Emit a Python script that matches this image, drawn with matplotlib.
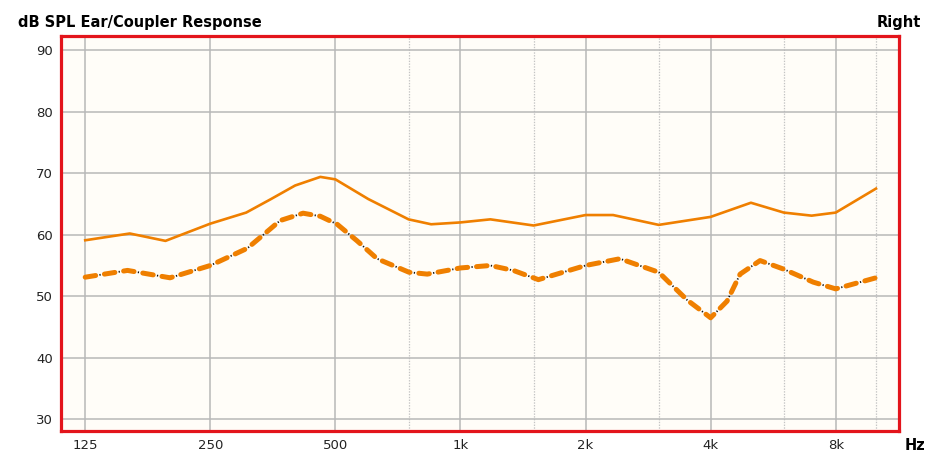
import matplotlib.pyplot as plt
import matplotlib.ticker as mticker

# readings (Hz, dB SPL)
solid_hz = [125, 160, 195, 250, 305, 350, 400, 460, 500, 600, 750, 850, 1000,
            1180, 1500, 2000, 2330, 3000, 4000, 5000, 6000, 7000, 8000, 10000]
solid_db = [59.1, 60.2, 59.0, 61.8, 63.6, 65.8, 68.0, 69.4, 69.0, 65.8, 62.5,
            61.7, 62.0, 62.5, 61.5, 63.2, 63.2, 61.6, 62.9, 65.2, 63.6, 63.1,
            63.6, 67.5]
dash_hz = [125, 158, 200, 250, 307, 348, 368, 418, 460, 505, 564, 630, 752,
           832, 1000, 1180, 1340, 1540, 2000, 2420, 3000, 3510, 4000, 4380,
           4710, 5260, 6000, 7060, 8000, 10000]
dash_db = [53.1, 54.2, 53.0, 55.0, 57.8, 60.9, 62.3, 63.5, 63.0, 61.7, 59.0,
           56.1, 53.9, 53.6, 54.6, 55.0, 54.2, 52.7, 55.0, 56.1, 53.9, 49.4,
           46.5, 49.2, 53.6, 55.8, 54.4, 52.3, 51.2, 53.0]
octave_ticks = [125, 250, 500, 1000, 2000, 4000, 8000]
octave_labels = ['125', '250', '500', '1k', '2k', '4k', '8k']
mid_ticks = [750, 1500, 3000, 6000, 10000]
db_ticks = [30, 40, 50, 60, 70, 80, 90]

orange = '#ef7f00'
plt.rcParams['lines.scale_dashes'] = False

fig = plt.figure(figsize=(9.28, 4.57), dpi=100)
ax = fig.add_axes([61 / 928, 26 / 457, 838 / 928, 395 / 457])
ax.set_facecolor('#fffdf8')
ax.set_xscale('log')
ax.set_xlim(109.3, 11360)
ax.set_ylim(28.1, 92.3)

# grid
for f in octave_ticks:
    ax.axvline(f, color='#b8b8b8', lw=1.1, zorder=1)
for f in mid_ticks:
    ax.axvline(f, color='#c4c4c4', lw=0.9, ls=(0, (1, 1)), zorder=1)
for d in db_ticks:
    ax.axhline(d, color='#b8b8b8', lw=1.1, zorder=1)

# curves
ax.plot(solid_hz, solid_db, color=orange, lw=1.9, solid_joinstyle='round', zorder=3)
ax.plot(dash_hz, dash_db, color=orange, lw=3.6, ls=(0, (7.6, 6.4)),
        dash_capstyle='round', dash_joinstyle='round', zorder=3)
ax.plot(dash_hz, dash_db, color='#111111', lw=1.3, ls=(3.65, (0.9, 13.1)), zorder=4)

ax.xaxis.set_major_locator(mticker.FixedLocator(octave_ticks))
ax.xaxis.set_major_formatter(mticker.FixedFormatter(octave_labels))
ax.xaxis.set_minor_locator(mticker.NullLocator())
ax.set_yticks(db_ticks)
ax.tick_params(length=0, labelsize=9.5, colors='#222222', pad=6)
for s in ax.spines.values():
    s.set_color('#e3141b')
    s.set_linewidth(2.3)

fig.text(18 / 928, 1 - 22 / 457, 'dB SPL Ear/Coupler Response', fontsize=10.5,
         fontweight='bold', ha='left', va='center')
fig.text(921 / 928, 1 - 22 / 457, 'Right', fontsize=10.5, fontweight='bold',
         ha='right', va='center')
fig.text(905 / 928, 1 - 446 / 457, 'Hz', fontsize=10.5, fontweight='bold',
         ha='left', va='center')

fig.savefig('out.png', dpi=100)
